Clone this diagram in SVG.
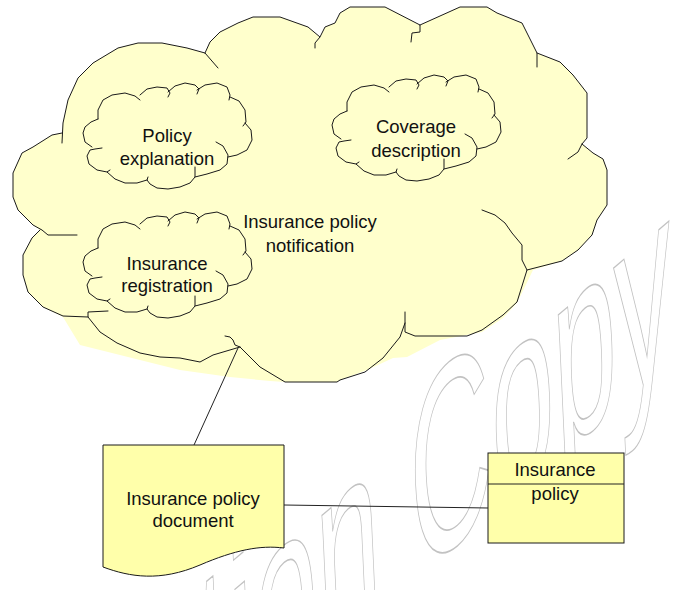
<svg xmlns="http://www.w3.org/2000/svg" xmlns:xlink="http://www.w3.org/1999/xlink" width="692" height="590" viewBox="0 0 692 590">
<style>
.ol{fill:none;stroke:#1a1a1a;stroke-width:1;stroke-linejoin:round;stroke-linecap:round}
.cf{fill:#ffffcc;stroke:none}
.nf{fill:#ffffaa;stroke:#1a1a1a;stroke-width:1}
.t{font-family:"Liberation Sans",Arial,sans-serif;font-size:18.5px;fill:#111;text-anchor:middle}
.wm{font-family:"Liberation Sans",Arial,sans-serif;font-size:100px;fill:none;stroke:#c2c2c2;stroke-width:1.3}
.cn{fill:none;stroke:#222;stroke-width:1}
</style>
<defs>
<g id="small">
<polygon class="cf" points="15,36 15,27 20,17 29,12 42,10 52,13 57,15 64,6 74,4 84,5 87,8 92,3 102,0 112,2 115,5 122,2 134,0 144,4 147,12 147,14 156,18 162,27 163,39 162,40 168,47 169,57 164,67 154,72 145,74 144,81 137,87 124,91 112,94 107,100 97,104 85,106 74,105 67,101 64,97 54,100 42,100 32,96 24,89 14,87 6,81 4,73 7,67 9,64 2,59 0,50 2,44 8,39"/>
<polyline class="ol" points="15,36 15,27 20,17 29,12 42,10 52,13 57,17"/>
<polyline class="ol" points="57,12 64,6 74,4 84,5 87,10 85,14"/>
<polyline class="ol" points="85,9 92,3 102,0 112,2 116,6 114,11"/>
<polyline class="ol" points="114,7 122,2 134,0 144,4 147,12 146,17"/>
<polyline class="ol" points="147,14 156,18 162,27 163,39 160,43"/>
<polyline class="ol" points="162,40 168,47 169,57 164,67 154,72 145,74"/>
<polyline class="ol" points="133,59 140,63 145,72 144,81 137,87 124,91 112,94"/>
<polyline class="ol" points="112,84 112,94 107,100 97,104 85,106 74,105 67,101 64,97 65,94"/>
<polyline class="ol" points="64,97 54,100 42,100 32,96 24,89 27,87"/>
<polyline class="ol" points="24,89 14,87 6,81 4,73 7,67 12,66 19,65"/>
<polyline class="ol" points="9,64 2,59 0,50 2,44 8,39 15,36"/>
</g>
</defs>
<rect width="692" height="590" fill="#ffffff"/>
<text class="wm" transform="matrix(1.12,-0.95,0.12,2.6,-140,1050)" vector-effect="non-scaling-stroke">Evaluation Copy</text>
<g id="notification">
<polygon class="cf" points="13,173 22,153 33,147 52,135 62,133 63,123 68,100 78,78 93,63 118,48 138,43 162,43 187,48 205,53 210,42 220,32 238,23 253,17 280,17 308,27 320,37 325,27 335,23 340,13 350,7 385,7 420,25 460,7 487,7 497,13 522,23 537,53 560,62 573,75 587,93 587,138 582,144 593,153 603,159 607,170 607,205 597,220 592,235 578,250 562,261 533,270 517,303 503,318 482,332 440,340 407,357 393,358 367,370 340,380 337,382 285,382 270,381 230,377 180,370 80,345 63,317 43,307 28,292 23,275 23,255 32,238 40,230 33,225 18,210 13,197"/>
<polyline class="ol" points="77,235 48,235 42,230 33,225 18,210 13,197 13,173 22,153 33,147 52,135 62,133"/>
<polyline class="ol" points="62,143 63,123 68,100 78,78 93,63 118,48 138,43 162,43 187,48 205,53 218,68"/>
<polyline class="ol" points="205,53 210,42 220,32 238,23 253,17 280,17 308,27 320,37 315,43 315,48"/>
<polyline class="ol" points="320,37 325,27 335,23 340,13 350,7 385,7 420,25 420,32 412,33 411,42"/>
<polyline class="ol" points="420,25 460,7 487,7 497,13 522,23 537,53 537,67"/>
<polyline class="ol" points="537,53 560,62 573,75 587,93 587,138 582,144 578,152 568,159"/>
<polyline class="ol" points="582,144 593,153 603,159 607,170 607,205 597,220 592,235 578,250 562,261 527,270"/>
<polyline class="ol" points="482,210 495,215 505,223 512,233 522,245 522,260 527,270 517,302 503,315 482,330 467,336 415,336 405,332 405,312"/>
<polyline class="ol" points="405,323 400,337 383,358 365,372 340,380 337,382 285,382 260,367 240,347 235,345 233,340 230,337 225,336"/>
<polyline class="ol" points="240,347 213,355 200,362 180,358 160,357 140,353 117,343 100,332 88,317 88,312 108,311"/>
<polyline class="ol" points="88,317 63,316 43,307 28,292 23,275 23,255 32,238 40,230"/>
<text class="t" x="310" y="228">Insurance policy</text>
<text class="t" x="310" y="252">notification</text>
</g>
<g id="policy-explanation">
<use xlink:href="#small" href="#small" x="83" y="83"/>
<text class="t" x="167" y="142">Policy</text>
<text class="t" x="167" y="165">explanation</text>
</g>
<g id="coverage-description">
<use xlink:href="#small" href="#small" x="332" y="75"/>
<text class="t" x="416" y="133">Coverage</text>
<text class="t" x="416" y="157">description</text>
</g>
<g id="insurance-registration">
<use xlink:href="#small" href="#small" x="83" y="212"/>
<text class="t" x="167" y="270">Insurance</text>
<text class="t" x="167" y="292">registration</text>
</g>
<g id="policy-document">
<path class="nf" d="M103,445 L284,445 L284,548 C260,545 235,550 200,565 C160,582 130,577 103,567 Z"/>
<text class="t" x="193" y="505">Insurance policy</text>
<text class="t" x="193" y="527">document</text>
</g>
<g id="insurance-policy">
<rect class="nf" x="488" y="453" width="136" height="90"/>
<line class="cn" x1="488" y1="484" x2="624" y2="484"/>
<text class="t" x="555" y="476">Insurance</text>
<text class="t" x="555" y="500">policy</text>
</g>
<g id="connectors">
<line class="cn" x1="194" y1="445" x2="238" y2="348"/>
<line class="cn" x1="284" y1="505" x2="488" y2="508"/>
</g>
</svg>
